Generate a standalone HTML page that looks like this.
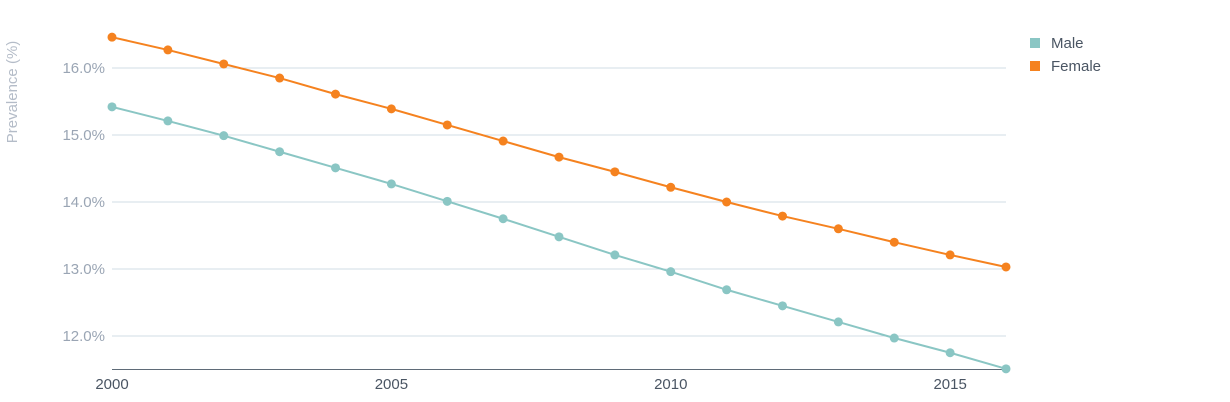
<!DOCTYPE html>
<html><head><meta charset="utf-8"><style>
body{margin:0;background:#fff;font-family:"Liberation Sans",sans-serif}
svg{display:block}
</style></head><body>
<svg id="chart" width="1230" height="402">
<text transform="translate(17,92) rotate(-90)" text-anchor="middle" font-size="15" fill="#b4bcc8">Prevalence (%)</text>
<g id="grid"></g><g id="series"></g>
<g>
<rect x="1030" y="38" width="10" height="10" fill="#8ac6c4"/>
<text x="1051" y="48" font-size="15" fill="#4a5563">Male</text>
<rect x="1030" y="61" width="10" height="10" fill="#f5821f"/>
<text x="1051" y="71" font-size="15" fill="#4a5563">Female</text>
</g>
</svg>
<script>
const years=[2000,2001,2002,2003,2004,2005,2006,2007,2008,2009,2010,2011,2012,2013,2014,2015,2016];
const male=[15.42,15.21,14.99,14.75,14.51,14.27,14.01,13.75,13.48,13.21,12.96,12.69,12.45,12.21,11.97,11.75,11.51];
const female=[16.46,16.27,16.06,15.85,15.61,15.39,15.15,14.91,14.67,14.45,14.22,14.0,13.79,13.60,13.40,13.21,13.03];
const yTicks=[12,13,14,15,16];
const xTicks=[2000,2005,2010,2015];
const NS="http://www.w3.org/2000/svg";
const x=v=>112+(v-2000)*(1006-112)/16;
const y=v=>68+(16-v)*67;
function mk(t,a,p){const e=document.createElementNS(NS,t);for(const k in a)e.setAttribute(k,a[k]);p.appendChild(e);return e;}
const g=document.getElementById('grid'),s=document.getElementById('series');
yTicks.forEach(t=>{
const l=mk('line',{x1:112,x2:1006,y1:y(t),y2:y(t),stroke:'#d0dce6','stroke-width':1},g);


const tx=mk('text',{x:105,y:y(t)+5,'text-anchor':'end','font-size':15,fill:'#9aa5b4'},g);
tx.textContent=t.toFixed(1)+'%';


});
const ax=mk('line',{x1:112,x2:1006,y1:y(11.5),y2:y(11.5),stroke:'#5f6b78','stroke-width':1},g);


xTicks.forEach(t=>{
const tx=mk('text',{x:x(t),y:389,'text-anchor':'middle','font-size':15,fill:'#4a5563'},g);
tx.textContent=t;


});
function series(vals,col,name){
const p=mk('polyline',{points:vals.map((v,i)=>x(years[i])+','+y(v)).join(' '),fill:'none',stroke:col,'stroke-width':2},s);


vals.forEach((v,i)=>{
const c=mk('circle',{cx:x(years[i]),cy:y(v),r:4.5,fill:col},s);


});
}
series(male,'#8ac6c4','male');
series(female,'#f5821f','female');
</script>
</body></html>
